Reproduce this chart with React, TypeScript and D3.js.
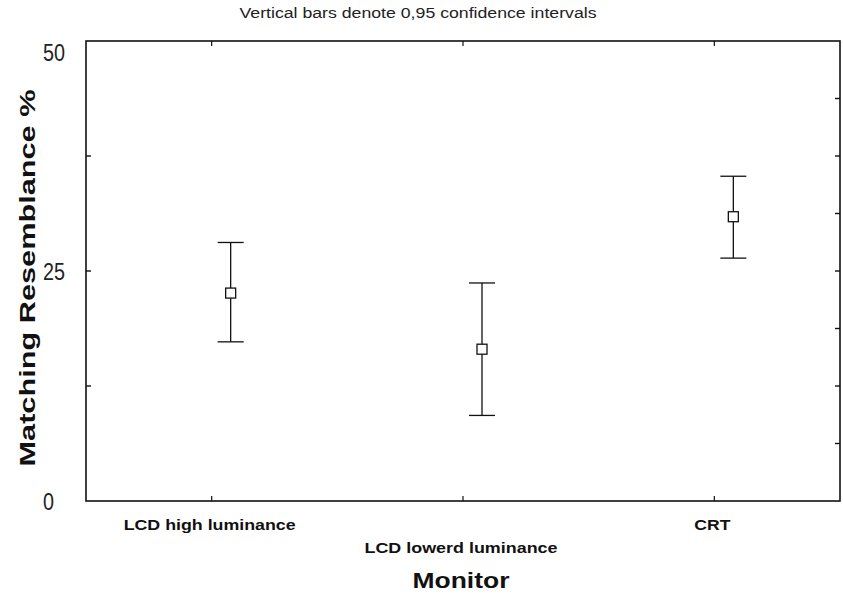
import React from 'react';
import * as d3 from 'd3';

const categories = ['LCD high luminance', 'LCD lowerd luminance', 'CRT'];
const means = [22.6, 16.5, 30.9];
const lower = [17.3, 9.3, 26.4];
const upper = [28.1, 23.7, 35.3];
const yTickLabels = [0, 25, 50];
const leftMinor = [12.5, 25, 37.5];
const rightMinor = [6.25, 12.5, 18.75, 25, 31.25, 37.5, 43.75];

const W = 843;
const H = 595;
const m = { left: 86, right: 3, top: 41, bottom: 94 };

export default function App() {
  const x = d3.scaleBand<string>().domain(categories).range([m.left, W - m.right]).padding(0);
  const y = d3.scaleLinear().domain([0, 50]).range([H - m.bottom, m.top]);
  const cx = (c: string) => (x(c) as number) + x.bandwidth() / 2;
  const offset = 19; // points drawn slightly right of the tick
  const cap = 13;
  const sq = 10;
  const labelFont = 'Liberation Sans, Arial, sans-serif';
  // scanned original is a bit stretched, so labels get a fixed length
  const catLen = [172, 193, 36];

  return (
    <svg width={W} height={H} style={{ position: 'absolute', left: 0, top: 0, background: '#fff' }}>
      <text x={418} y={18} textAnchor="middle" fontFamily={labelFont} fontSize={14} fill="#222"
        textLength={357} lengthAdjust="spacingAndGlyphs">
        Vertical bars denote 0,95 confidence intervals
      </text>

      <rect x={m.left} y={m.top} width={W - m.left - m.right} height={H - m.top - m.bottom}
        fill="none" stroke="#111" strokeWidth={1.6} />

      {leftMinor.map((t) => (
        <line key={'l' + t} x1={m.left} x2={m.left + 5} y1={y(t)} y2={y(t)} stroke="#111" strokeWidth={1.4} />
      ))}
      {rightMinor.map((t) => (
        <line key={'r' + t} x1={W - m.right} x2={W - m.right - 5} y1={y(t)} y2={y(t)} stroke="#111" strokeWidth={1.4} />
      ))}
      {categories.map((c) => (
        <g key={'t' + c}>
          <line x1={cx(c)} x2={cx(c)} y1={m.top} y2={m.top + 5} stroke="#111" strokeWidth={1.2} />
          <line x1={cx(c)} x2={cx(c)} y1={H - m.bottom} y2={H - m.bottom - 5} stroke="#111" strokeWidth={1.2} />
        </g>
      ))}

      {yTickLabels.map((t) => (
        <text key={'yl' + t} x={43} y={Math.max(y(t) + 9, 61)} textAnchor="start"
          fontFamily={labelFont} fontSize={23} fill="#222"
          textLength={String(t).length * 11} lengthAdjust="spacingAndGlyphs">
          {t}
        </text>
      ))}

      {categories.map((c, i) => (
        <text key={'xl' + c} x={cx(c) - 2} y={i === 1 ? 553 : 530} textAnchor="middle"
          fontFamily={labelFont} fontWeight="bold" fontSize={15} fill="#111"
          textLength={catLen[i]} lengthAdjust="spacingAndGlyphs">
          {c}
        </text>
      ))}

      <text x={461} y={588} textAnchor="middle" fontFamily={labelFont} fontWeight="bold" fontSize={22} fill="#111"
        textLength={97} lengthAdjust="spacingAndGlyphs">
        Monitor
      </text>
      <text transform={`translate(35, 278) rotate(-90)`} textAnchor="middle" fontFamily={labelFont}
        fontWeight="bold" fontSize={22} fill="#111" textLength={377} lengthAdjust="spacingAndGlyphs">
        Matching Resemblance %
      </text>

      {categories.map((c, i) => {
        const px = cx(c) + offset;
        return (
          <g key={'p' + c} stroke="#111" strokeWidth={1.3} fill="none">
            <line x1={px} x2={px} y1={y(upper[i])} y2={y(means[i]) - sq / 2} />
            <line x1={px} x2={px} y1={y(means[i]) + sq / 2} y2={y(lower[i])} />
            <line x1={px - cap} x2={px + cap} y1={y(upper[i])} y2={y(upper[i])} />
            <line x1={px - cap} x2={px + cap} y1={y(lower[i])} y2={y(lower[i])} />
            <rect x={px - sq / 2} y={y(means[i]) - sq / 2} width={sq} height={sq} fill="#fff" />
          </g>
        );
      })}
    </svg>
  );
}
